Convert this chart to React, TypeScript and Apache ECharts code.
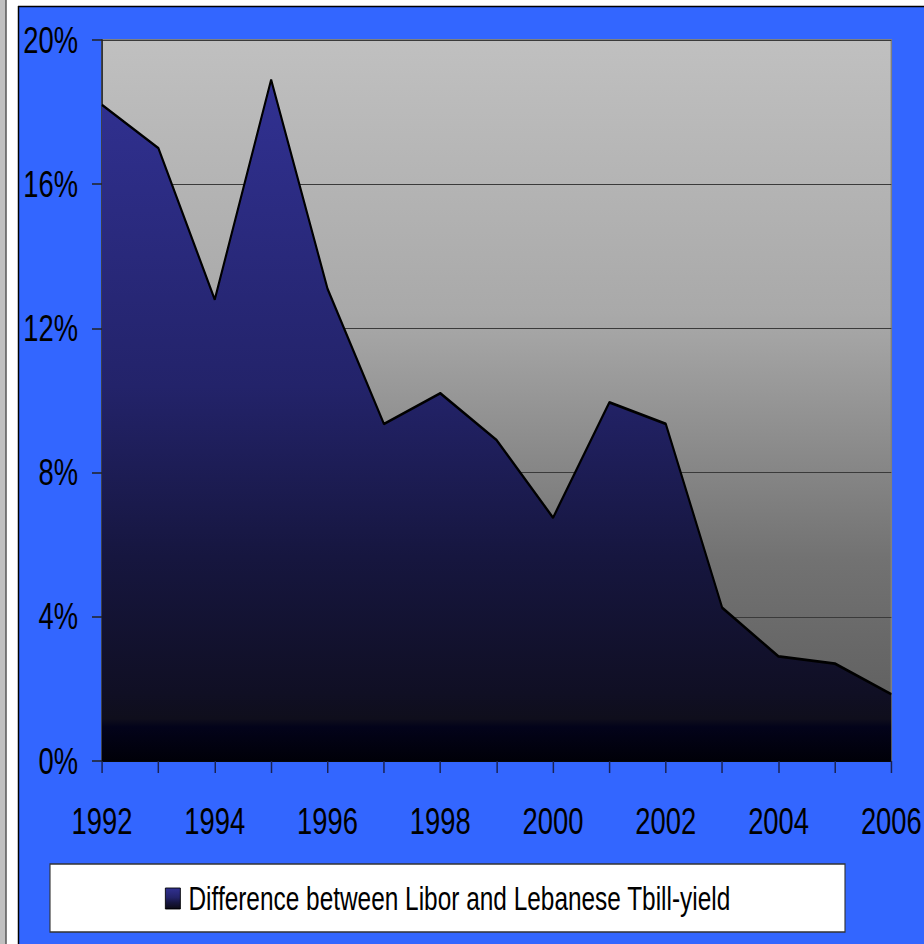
import React, { useEffect, useRef } from "react";
import * as echarts from "echarts";

// Years on the category axis and the Libor vs. Lebanese T-bill spread (%)
const years: string[] = [
  "1992", "1993", "1994", "1995", "1996", "1997", "1998", "1999",
  "2000", "2001", "2002", "2003", "2004", "2005", "2006",
];
const spread: number[] = [
  18.2, 17.0, 12.8, 18.9, 13.1, 9.35, 10.2, 8.9,
  6.75, 9.95, 9.35, 4.25, 2.9, 2.7, 1.85,
];
const seriesName = "Difference between Libor and Lebanese Tbill-yield";

// The chart is laid out on a wider canvas and squeezed horizontally,
// which turns the regular sans-serif into a narrow face.
const PAGE_W = 924;
const PAGE_H = 944;
const CANVAS_W = 1249;
const SX = PAGE_W / CANVAS_W;
const px = (v: number) => v / SX; // page x-distance -> canvas x-distance

const FONT = "'Liberation Sans', Arial, Helvetica, sans-serif";

const navyFill = () =>
  new echarts.graphic.LinearGradient(0, 0, 0, 1, [
    { offset: 0, color: "#313192" },
    { offset: 0.45, color: "#23236a" },
    { offset: 0.7, color: "#16163f" },
    { offset: 0.9, color: "#100f24" },
    { offset: 0.938, color: "#0f0e1c" },
    { offset: 0.95, color: "#03031a" },
    { offset: 1, color: "#000008" },
  ]);

export default function App() {
  const ref = useRef<HTMLDivElement>(null);

  useEffect(() => {
    document.body.style.margin = "0";
    if (!ref.current) return;
    const chart = echarts.init(ref.current, undefined, { renderer: "svg" });
    chart.setOption({
      animation: false,
      backgroundColor: "#3366ff",
      textStyle: { fontFamily: FONT },
      graphic: [
        // frame strips on the left and top edges
        { type: "rect", shape: { x: 0, y: 0, width: px(6), height: PAGE_H }, style: { fill: "#c0c0c0" }, z: 0 },
        { type: "rect", shape: { x: px(6), y: 0, width: px(13), height: PAGE_H }, style: { fill: "#ffffff" }, z: 0 },
        { type: "rect", shape: { x: px(19), y: 0, width: CANVAS_W, height: 6 }, style: { fill: "#ffffff" }, z: 0 },
        { type: "line", shape: { x1: px(6), y1: 0, x2: px(6), y2: PAGE_H }, style: { stroke: "#555555", lineWidth: 2 }, z: 1 },
        { type: "line", shape: { x1: px(18.5), y1: 6, x2: px(18.5), y2: PAGE_H }, style: { stroke: "#000000", lineWidth: 2 }, z: 1 },
        { type: "line", shape: { x1: px(18), y1: 6.5, x2: CANVAS_W, y2: 6.5 }, style: { stroke: "#000000", lineWidth: 1.5 }, z: 1 },
        // legend box
        {
          type: "rect",
          shape: { x: px(50), y: 864, width: px(795), height: 68 },
          style: { fill: "#ffffff", stroke: "#333333", lineWidth: 1.5 },
          z: 1,
        },
      ],
      grid: {
        left: px(102),
        top: 40,
        right: px(31),
        bottom: 183,
        show: true,
        backgroundColor: new echarts.graphic.LinearGradient(0, 0, 0, 1, [
          { offset: 0, color: "#c0c0c0" },
          { offset: 0.38, color: "#a9a9a9" },
          { offset: 0.72, color: "#727272" },
          { offset: 1, color: "#5a5a5a" },
        ]),
        borderColor: "#808080",
        borderWidth: 2,
      },
      legend: {
        data: [
          {
            name: seriesName,
            icon: "rect",
            itemStyle: { color: navyFill(), borderColor: "#000000", borderWidth: 1 },
          },
        ],
        left: px(165),
        top: 882,
        padding: 0,
        itemWidth: px(15),
        itemHeight: 21,
        selectedMode: false,
        textStyle: { fontFamily: FONT, fontSize: 33, color: "#000000", padding: [0, 0, 0, 6] },
      },
      xAxis: {
        type: "category",
        data: years,
        boundaryGap: false,
        axisLine: { show: true, lineStyle: { color: "#000000", width: 1 } },
        axisTick: { show: true, interval: 0, length: 12, inside: false, lineStyle: { color: "#1a2250", width: 2 } },
        axisLabel: { interval: 1, margin: 42, fontSize: 37, color: "#000000", fontFamily: FONT },
        splitLine: { show: false },
      },
      yAxis: {
        type: "value",
        min: 0,
        max: 20,
        interval: 4,
        axisLine: { show: true, lineStyle: { color: "#222222", width: 2 } },
        axisTick: { show: true, length: px(10), lineStyle: { color: "#222222", width: 1.5 } },
        axisLabel: { formatter: "{value}%", margin: px(24), fontSize: 37, color: "#000000", fontFamily: FONT },
        splitLine: { show: true, lineStyle: { color: "#3a3a3a", width: 1.2 } },
      },
      series: [
        {
          name: seriesName,
          type: "line",
          data: spread,
          symbol: "none",
          lineStyle: { color: "#000000", width: 2.8 },
          areaStyle: { color: navyFill(), opacity: 1 },
          z: 3,
        },
      ],
    });
    return () => chart.dispose();
  }, []);

  return (
    <div
      style={{
        position: "absolute",
        left: 0,
        top: 0,
        width: PAGE_W,
        height: PAGE_H,
        overflow: "hidden",
      }}
    >
      <div
        ref={ref}
        style={{
          width: CANVAS_W,
          height: PAGE_H,
          transform: `scaleX(${SX})`,
          transformOrigin: "0 0",
        }}
      />
    </div>
  );
}
